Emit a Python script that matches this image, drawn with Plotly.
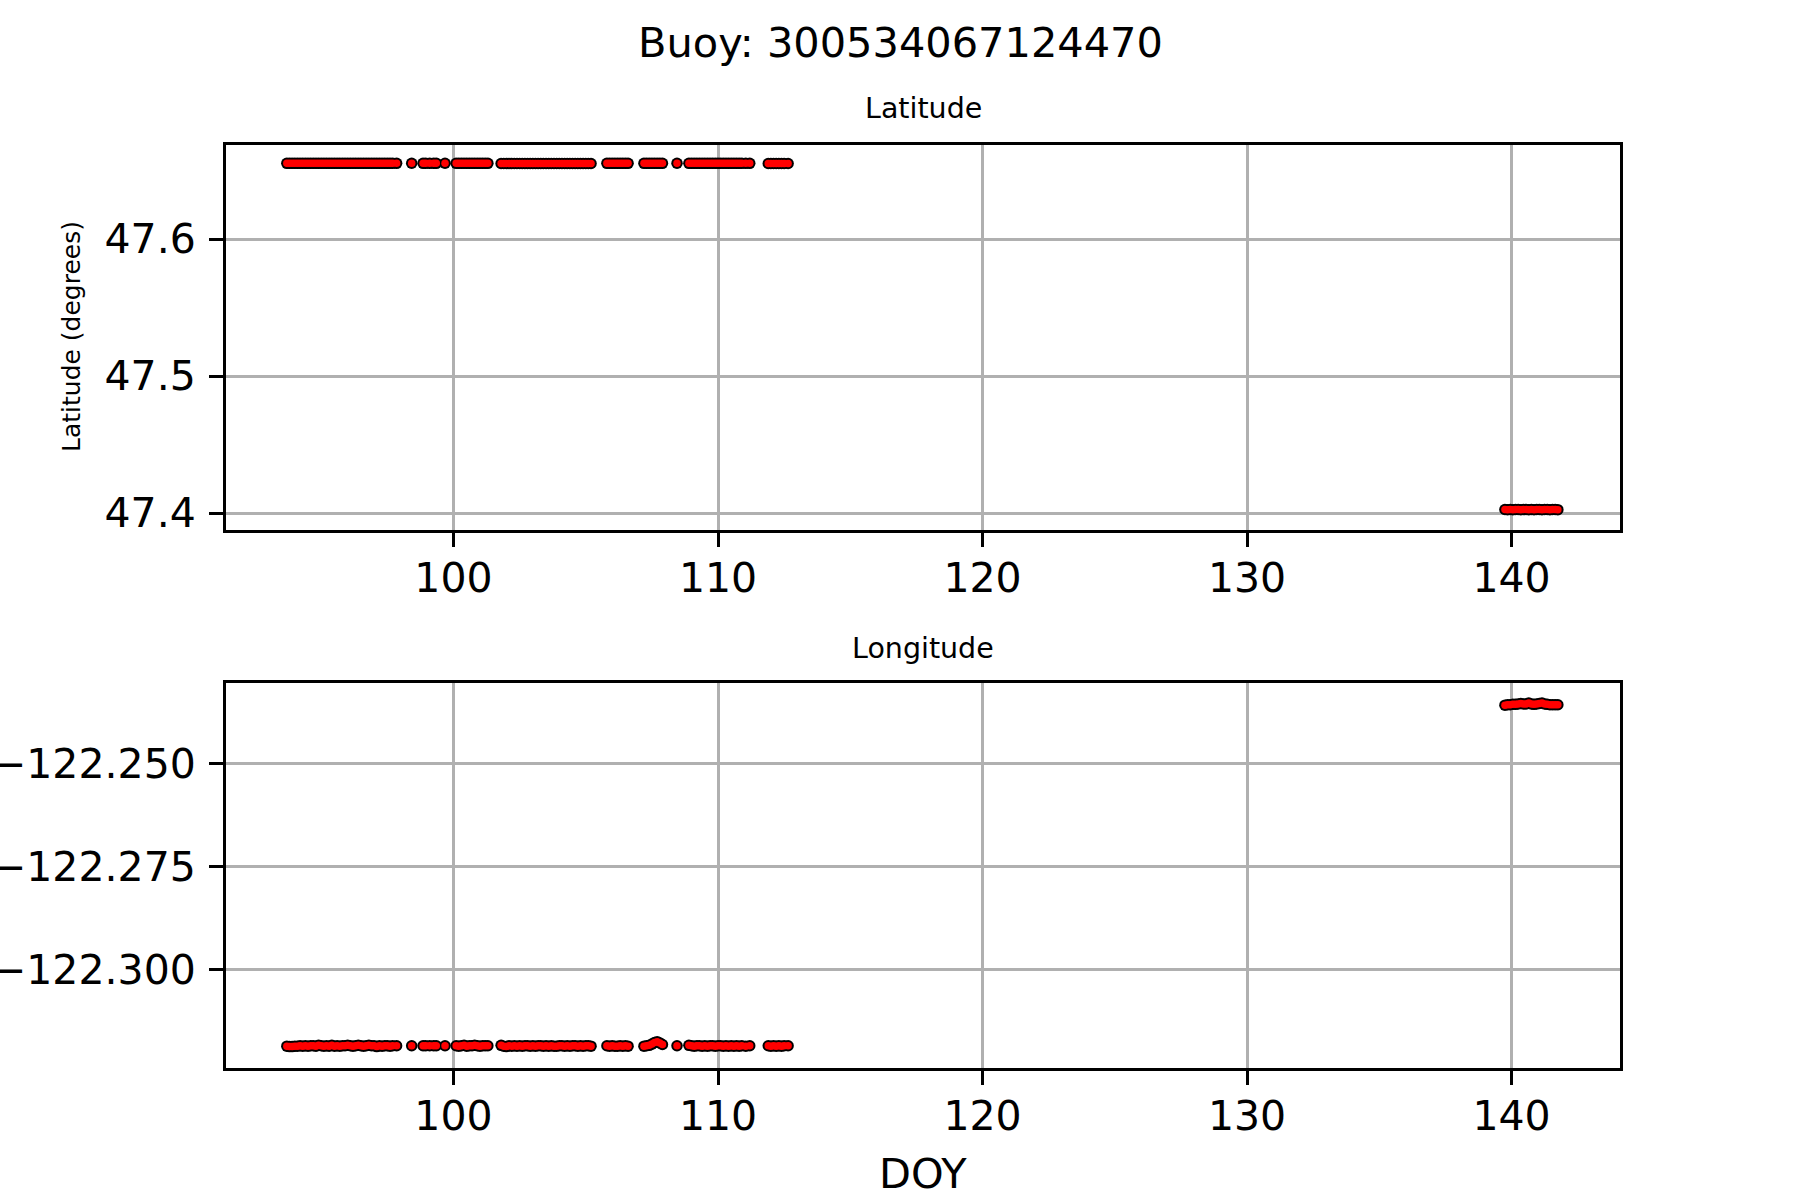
import plotly.graph_objects as go

# ---------------- data ----------------
doy = [93.7, 93.8, 93.9, 94.0, 94.1, 94.2, 94.3, 94.4, 94.5, 94.6, 94.7, 94.8,
       94.9, 95.0, 95.1, 95.2, 95.3, 95.4, 95.5, 95.6, 95.7, 95.8, 95.9, 96.0,
       96.1, 96.2, 96.3, 96.4, 96.5, 96.6, 96.7, 96.8, 96.9, 97.0, 97.1, 97.2,
       97.3, 97.4, 97.5, 97.6, 97.7, 97.85,
       98.42,
       98.85, 98.95, 99.1, 99.25, 99.35,
       99.68,
       100.1, 100.2, 100.3, 100.4, 100.5, 100.6, 100.7, 100.8, 100.9, 101.0,
       101.1, 101.2, 101.3,
       101.8, 101.9, 102.0, 102.1, 102.2, 102.3, 102.4, 102.5, 102.6, 102.7,
       102.8, 102.9, 103.0, 103.1, 103.2, 103.3, 103.4, 103.5, 103.6, 103.7,
       103.8, 103.9, 104.0, 104.1, 104.2, 104.3, 104.4, 104.5, 104.6, 104.7,
       104.8, 104.9, 105.0, 105.1, 105.2,
       105.8, 105.9, 106.0, 106.1, 106.2, 106.3, 106.4, 106.5, 106.6,
       107.2, 107.3, 107.4, 107.5, 107.6, 107.7, 107.8, 107.9,
       108.45,
       108.9, 109.0, 109.1, 109.2, 109.3, 109.4, 109.5, 109.6, 109.7, 109.8,
       109.9, 110.0, 110.1, 110.2, 110.3, 110.4, 110.5, 110.6, 110.7, 110.8,
       110.9, 111.05, 111.2,
       111.9, 112.0, 112.1, 112.2, 112.3, 112.4, 112.5, 112.65,
       139.75, 139.85, 139.95, 140.05, 140.15, 140.25, 140.35, 140.45, 140.55,
       140.65, 140.75, 140.85, 140.95, 141.05, 141.15, 141.25, 141.35, 141.45,
       141.55, 141.65, 141.75]

latitude = [47.6552] * 42 + [47.6553] + [47.6552] * 5 + [47.6553] + \
           [47.6552] * 13 + [47.6551] * 35 + [47.6552] * 9 + [47.6552] * 8 + \
           [47.6553] + [47.6552] * 23 + [47.6551] * 8 + \
           [47.4026, 47.4025, 47.4026, 47.4025, 47.4026, 47.4026, 47.4025,
            47.4026, 47.4026, 47.4025, 47.4026, 47.4025, 47.4026, 47.4026,
            47.4025, 47.4026, 47.4026, 47.4025, 47.4026, 47.4026, 47.4025]

longitude = [
    # 93.7 - 97.85 (42)
    -122.3187, -122.3188, -122.3188, -122.3187, -122.3187, -122.3186,
    -122.3187, -122.3186, -122.3187, -122.3186, -122.3186, -122.3187,
    -122.3185, -122.3186, -122.3187, -122.3186, -122.3187, -122.3185,
    -122.3187, -122.3186, -122.3187, -122.3186, -122.3186, -122.3185,
    -122.3186, -122.3187, -122.3186, -122.3185, -122.3186, -122.3187,
    -122.3186, -122.3185, -122.3186, -122.3186, -122.3188, -122.3186,
    -122.3187, -122.3186, -122.3186, -122.3187, -122.3186, -122.3186,
    # 98.42 (1)
    -122.3186,
    # 98.85 - 99.35 (5)
    -122.3186, -122.3186, -122.3186, -122.3186, -122.3186,
    # 99.68 (1)
    -122.3186,
    # 100.1 - 101.3 (13)
    -122.3186, -122.3187, -122.3186, -122.3185, -122.3187, -122.3186,
    -122.3186, -122.3185, -122.3186, -122.3187, -122.3186, -122.3186,
    -122.3186,
    # 101.8 - 105.2 (35)
    -122.3185, -122.3187, -122.3188, -122.3186, -122.3187, -122.3186,
    -122.3187, -122.3186, -122.3187, -122.3186, -122.3186, -122.3187,
    -122.3186, -122.3187, -122.3186, -122.3186, -122.3187, -122.3186,
    -122.3187, -122.3186, -122.3187, -122.3187, -122.3186, -122.3186,
    -122.3187, -122.3186, -122.3187, -122.3186, -122.3186, -122.3187,
    -122.3186, -122.3187, -122.3186, -122.3186, -122.3187,
    # 105.8 - 106.6 (9)
    -122.3186, -122.3187, -122.3186, -122.3187, -122.3187, -122.3186,
    -122.3187, -122.3186, -122.3187,
    # 107.2 - 107.9 (8)
    -122.3187, -122.3186, -122.3185, -122.3182, -122.3178, -122.3176,
    -122.3179, -122.3183,
    # 108.45 (1)
    -122.3186,
    # 108.9 - 111.2 (23)
    -122.3185, -122.3186, -122.3187, -122.3186, -122.3186, -122.3187,
    -122.3186, -122.3187, -122.3186, -122.3186, -122.3187, -122.3186,
    -122.3186, -122.3187, -122.3186, -122.3187, -122.3186, -122.3187,
    -122.3186, -122.3187, -122.3186, -122.3187, -122.3186,
    # 111.9 - 112.65 (8)
    -122.3186, -122.3187, -122.3186, -122.3187, -122.3186, -122.3187,
    -122.3186, -122.3186,
    # 139.75 - 141.75 (21)
    -122.2359, -122.2358, -122.2358, -122.2357, -122.2357, -122.2356,
    -122.2355, -122.2356, -122.2356, -122.2354, -122.2356, -122.2357,
    -122.2356, -122.2355, -122.2354, -122.2356, -122.2357, -122.2358,
    -122.2358, -122.2358, -122.2358]

title_text = "Buoy: 300534067124470"
x_ticks = [100, 110, 120, 130, 140]
lat_ticks = [47.4, 47.5, 47.6]
lon_ticks = [-122.300, -122.275, -122.250]

FONT = "DejaVu Sans"
# black outline layer underneath, red fill layer on top
outline = dict(color="black", size=11.5, line=dict(width=0))
fill = dict(color="red", size=7.5, line=dict(width=0))

fig = go.Figure()
for xa, ya, vals in (("x", "y", latitude), ("x2", "y2", longitude)):
    fig.add_trace(go.Scatter(x=doy, y=vals, mode="markers", marker=outline,
                             xaxis=xa, yaxis=ya, showlegend=False, hoverinfo="skip"))
    fig.add_trace(go.Scatter(x=doy, y=vals, mode="markers", marker=fill,
                             xaxis=xa, yaxis=ya, showlegend=False))

axis_common = dict(showline=True, linecolor="black", linewidth=3, mirror=True,
                   showgrid=True, gridcolor="#b0b0b0", gridwidth=3,
                   ticks="outside", ticklen=14, tickwidth=3, tickcolor="black",
                   zeroline=False, automargin=False,
                   tickfont=dict(family=FONT, size=41, color="black"))

xdom = [226 / 1800, 1620 / 1800]
fig.update_layout(
    width=1800, height=1200,
    paper_bgcolor="white", plot_bgcolor="white",
    margin=dict(l=0, r=0, t=0, b=0, autoexpand=False),
    font=dict(family=FONT, color="black"),
    xaxis=dict(domain=xdom, range=[91.4, 144.1], tickvals=x_ticks,
               anchor="y", ticklabelstandoff=-4, **axis_common),
    yaxis=dict(domain=[1 - 529.5 / 1200, 1 - 145 / 1200], range=[47.388, 47.6686],
               tickvals=lat_ticks, tickformat=".1f", anchor="x",
               ticklabelstandoff=5, **axis_common),
    xaxis2=dict(domain=xdom, range=[91.4, 144.1], tickvals=x_ticks,
                anchor="y2", ticklabelstandoff=-4, **axis_common),
    yaxis2=dict(domain=[1 - 1068 / 1200, 1 - 683.3 / 1200], range=[-122.324, -122.2306],
                tickvals=lon_ticks, tickformat=".3f", anchor="x2",
                ticklabelstandoff=5, **axis_common),
    annotations=[
        dict(text=title_text, x=0.5, y=1 - 42 / 1200, xref="paper", yref="paper",
             xanchor="center", yanchor="middle", showarrow=False,
             font=dict(family=FONT, size=41.5, color="black")),
        dict(text="Latitude", x=(226 + 1620) / 2 / 1800, y=1 - 109 / 1200,
             xref="paper", yref="paper", xanchor="center", yanchor="middle",
             showarrow=False, font=dict(family=FONT, size=28.5, color="black")),
        dict(text="Longitude", x=(226 + 1620) / 2 / 1800, y=1 - 648 / 1200,
             xref="paper", yref="paper", xanchor="center", yanchor="middle",
             showarrow=False, font=dict(family=FONT, size=28.5, color="black")),
        dict(text="DOY", x=(226 + 1620) / 2 / 1800, y=1 - 1173 / 1200,
             xref="paper", yref="paper", xanchor="center", yanchor="middle",
             showarrow=False, font=dict(family=FONT, size=41.5, color="black")),
        dict(text="Latitude (degrees)", x=72 / 1800, y=1 - 337 / 1200,
             xref="paper", yref="paper", xanchor="center", yanchor="middle",
             textangle=-90, showarrow=False,
             font=dict(family=FONT, size=25, color="black")),
    ],
)

fig.write_html("out.html",
               config={"displayModeBar": False},
               post_script="document.body.style.margin='0px';"
                           "document.body.style.overflow='hidden';")
